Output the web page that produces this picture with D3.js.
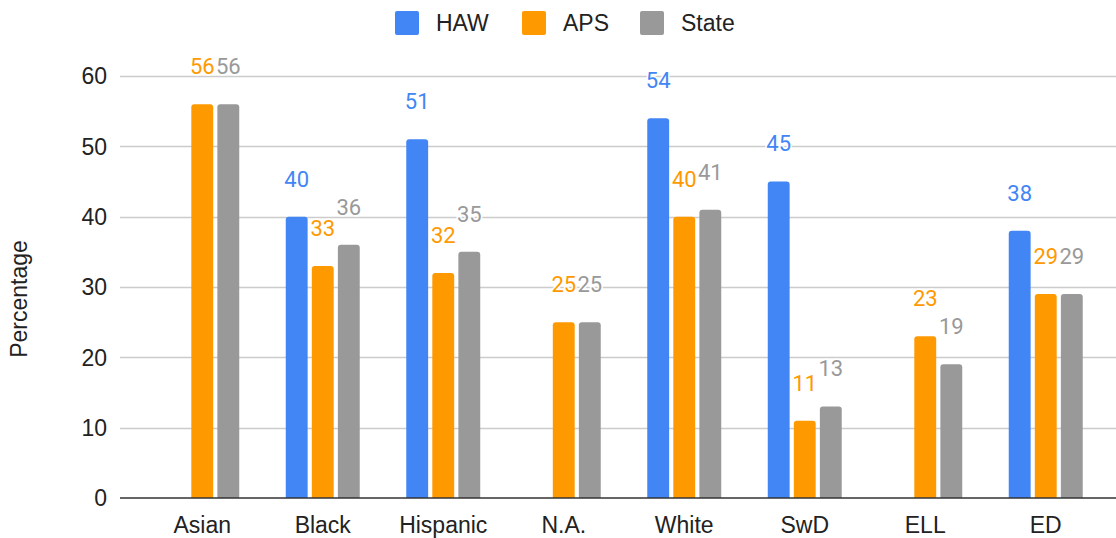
<!DOCTYPE html>
<html><head><meta charset="utf-8">
<script src="https://cdn.jsdelivr.net/npm/d3@7"></script>
<style>body{margin:0;background:#fff}svg{display:block}</style>
</head><body>
<svg id="c" width="1116" height="538"></svg>
<script>
const categories = ["Asian","Black","Hispanic","N.A.","White","SwD","ELL","ED"];
const seriesNames = ["HAW","APS","State"];
const haw   = [null,40,51,null,54,45,null,38];
const aps   = [56,33,32,25,40,11,23,29];
const state = [56,36,35,25,41,13,19,29];
const yTicks = [0,10,20,30,40,50,60];
const colors = ["#4285F4","#FF9900","#999999"];

const seriesVals = [haw, aps, state];
const svg = d3.select("#c");
const W = 1116, H = 538;
const FONT = "Liberation Sans, Arial, sans-serif";
const y = d3.scaleLinear().domain([0,60]).range([498,76]);
const x = d3.scaleBand().domain(categories).range([142,1106]).paddingInner(0.386).paddingOuter(0.193);
const xs = d3.scaleBand().domain(seriesNames).range([0,x.bandwidth()]).paddingInner(0.16);

// gridlines
svg.append("g").selectAll("line").data(yTicks.filter(d=>d>0)).join("line")
  .attr("x1",120).attr("x2",W).attr("y1",d=>Math.round(y(d))+0.5).attr("y2",d=>Math.round(y(d))+0.5)
  .attr("stroke","#cccccc").attr("stroke-width",1.5);

// y tick labels
svg.append("g").selectAll("text").data(yTicks).join("text")
  .attr("x",107).attr("y",d=>y(d)).attr("dy","0.36em").attr("text-anchor","end")
  .attr("font-family",FONT).attr("font-size",23).attr("fill","#222")
  .text(d=>d);

// y title
svg.append("text").attr("transform","translate(27,299) rotate(-90)").attr("text-anchor","middle")
  .attr("font-family",FONT).attr("font-size",23).attr("fill","#222").text("Percentage");

// bars
const rr = 3;
function barPath(x0,w,yTop,yBase){
  const r = Math.min(rr, (yBase-yTop));
  return `M${x0},${yBase}V${yTop+r}Q${x0},${yTop} ${x0+r},${yTop}H${x0+w-r}Q${x0+w},${yTop} ${x0+w},${yTop+r}V${yBase}Z`;
}
const data = [];
categories.forEach((c,i)=>seriesNames.forEach((s,j)=>{
  const v = seriesVals[j][i];
  if(v!=null) data.push({c,s,j,v});
}));
svg.append("g").selectAll("path").data(data).join("path")
  .attr("d",d=>barPath(x(d.c)+xs(d.s), xs.bandwidth(), y(d.v), y(0)))
  .attr("fill",d=>colors[d.j]);

// baseline
svg.append("line").attr("x1",120).attr("x2",W).attr("y1",498).attr("y2",498).attr("stroke","#333").attr("stroke-width",1.5);

// value labels
svg.append("g").selectAll("text").data(data).join("text")
  .attr("x",d=>x(d.c)+xs(d.s)+xs.bandwidth()/2).attr("y",d=>y(d.v)-38).attr("dy","0.36em")
  .attr("text-anchor","middle").attr("font-family","Roboto, sans-serif").attr("font-size",22)
  .attr("fill",d=>colors[d.j]).attr("stroke","#fff").attr("stroke-width",3).attr("paint-order","stroke")
  .text(d=>d.v);

// x labels
svg.append("g").selectAll("text").data(categories).join("text")
  .attr("x",d=>x(d)+x.bandwidth()/2).attr("y",533).attr("text-anchor","middle")
  .attr("font-family",FONT).attr("font-size",23).attr("fill","#222")
  .text(d=>d);

// legend
const legX = [395,522,640];
const lg = svg.append("g").selectAll("g").data(seriesNames).join("g")
  .attr("transform",(d,i)=>`translate(${legX[i]},11)`);
lg.append("rect").attr("width",24).attr("height",24).attr("rx",2).attr("fill",(d,i)=>colors[i]);
lg.append("text").attr("x",41).attr("y",12).attr("dy","0.36em")
  .attr("font-family",FONT).attr("font-size",23).attr("fill","#222").text(d=>d);
</script>
</body></html>
